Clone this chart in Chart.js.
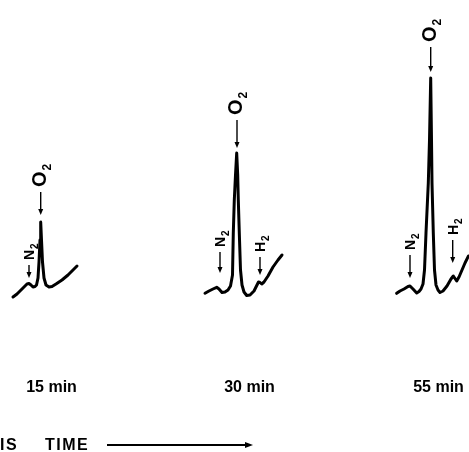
<!DOCTYPE html>
<html>
<head>
<meta charset="utf-8">
<script src="https://cdn.jsdelivr.net/npm/chart.js@4.4.0/dist/chart.umd.min.js"></script>
<style>
  html, body { margin: 0; padding: 0; background: #ffffff; }
  #wrap { width: 469px; height: 452px; }
</style>
</head>
<body>
<div id="wrap"><canvas id="c" width="469" height="452"></canvas></div>
<script>
// ---- Chromatogram traces (x = retention position, y = detector signal) ----
const trace15x = [13,17,21,24,27,29,31,33,35,36.5,38,39,40,40.7,41.5,42.5,44,46,49,52,56,62,68,73,77];
const trace15y = [3,6,10,13,16,16.5,15,13,13.5,15,22,38,60,78,60,38,22,15,13,13.5,16,20,25,30,34];

const trace30x = [205,209,213,216.7,219,222,225,228,230.5,232.5,233.3,234.3,235.5,236.7,237.7,238.3,239.3,240.5,242,244,246.7,250,254,257,258.5,260,261.7,264,268,273,278,282];
const trace30y = [6.7,9,11,12.7,11,7.5,8,10,14,25,67,100,125,147,125,100,67,30,15,8,4.5,5,9,15,18,17.5,16,18,24,33,40,45];

const trace55x = [396.7,400,404,408,410,413,416.7,419,421,423,424.5,426,428.3,429.5,430.7,431.5,432,433.3,434.5,436,438,440,443,447,451,453.3,455,456.7,459,462,465,468.5];
const trace55y = [6.7,9,11,13.5,14,11,7,8.5,11,16,30,67,117,160,222,160,117,67,30,15,10,7.5,9,14,21,24,21.5,19,23,30,37,44];

// ---- Peak labels (arrow tip / tail in data units) ----
const peakLabels = ["O2","N2","O2","N2","H2","O2","N2","H2"];
const peakX      = [40.7, 29, 237, 220, 260, 430.7, 410, 452.7];
const peakTipY   = [85, 22, 152, 27, 25, 228, 22, 37];
const peakTailY  = [108, 35, 180, 48, 43, 253, 45, 60];

// ---- Sample time labels ----
const timeLabels = ["15 min", "30 min", "55 min"];
const timeX      = [51.5, 249.5, 438.5];
const timeY      = -92;

// ---- Axis caption ----
const captionWords = ["IS", "TIME"];
const captionX     = [0, 45];
const captionY     = -150;
const arrowX       = [107, 253];
const arrowY       = -145;

function pts(xs, ys) { return xs.map((x, i) => ({ x: x, y: ys[i] })); }

const FONT = '"Liberation Sans", Arial, Helvetica, sans-serif';

const annotate = {
  id: 'annotate',
  afterDatasetsDraw(chart) {
    const ctx = chart.ctx;
    const xs = chart.scales.x, ys = chart.scales.y;
    ctx.save();
    ctx.fillStyle = '#000';
    ctx.strokeStyle = '#000';

    // peak labels with arrows
    peakLabels.forEach((lab, i) => {
      const px = xs.getPixelForValue(peakX[i]);
      const tip = ys.getPixelForValue(peakTipY[i]);
      const tail = ys.getPixelForValue(peakTailY[i]);
      ctx.lineWidth = 1.4;
      ctx.beginPath();
      ctx.moveTo(px, tail);
      ctx.lineTo(px, tip - 4);
      ctx.stroke();
      ctx.beginPath();
      ctx.moveTo(px - 2.5, tip - 6);
      ctx.lineTo(px + 2.5, tip - 6);
      ctx.lineTo(px, tip);
      ctx.closePath();
      ctx.fill();
      const isO = lab[0] === 'O';
      const big = isO ? 20 : 14;
      const sub = isO ? 12 : 10;
      const cap = big * 0.72;
      const shift = isO ? -2 : 0;
      ctx.save();
      ctx.translate(px + shift, tail - 5);
      ctx.rotate(-Math.PI / 2);
      ctx.textAlign = 'left';
      ctx.textBaseline = 'alphabetic';
      ctx.font = 'bold ' + big + 'px ' + FONT;
      ctx.fillText(lab[0], 0, cap / 2);
      const w = ctx.measureText(lab[0]).width;
      ctx.font = 'bold ' + sub + 'px ' + FONT;
      ctx.fillText(lab.slice(1), w + 1, cap / 2 + sub * 0.4);
      ctx.restore();
    });

    // time labels
    ctx.font = 'bold 16px ' + FONT;
    ctx.textAlign = 'center';
    ctx.textBaseline = 'alphabetic';
    timeLabels.forEach((t, i) => {
      ctx.fillText(t, xs.getPixelForValue(timeX[i]), ys.getPixelForValue(timeY));
    });

    // caption
    ctx.textAlign = 'left';
    ctx.font = 'bold 16px ' + FONT;
    if ('letterSpacing' in ctx) ctx.letterSpacing = '1.5px';
    captionWords.forEach((t, i) => {
      ctx.fillText(t, xs.getPixelForValue(captionX[i]), ys.getPixelForValue(captionY));
    });
    if ('letterSpacing' in ctx) ctx.letterSpacing = '0px';

    // time arrow
    const ax0 = xs.getPixelForValue(arrowX[0]);
    const ax1 = xs.getPixelForValue(arrowX[1]);
    const ay = ys.getPixelForValue(arrowY);
    ctx.lineWidth = 1.8;
    ctx.beginPath();
    ctx.moveTo(ax0, ay);
    ctx.lineTo(ax1 - 6, ay);
    ctx.stroke();
    ctx.beginPath();
    ctx.moveTo(ax1 - 8, ay - 3);
    ctx.lineTo(ax1, ay);
    ctx.lineTo(ax1 - 8, ay + 3);
    ctx.closePath();
    ctx.fill();

    ctx.restore();
  }
};

const ds = (xs, ys) => ({
  data: pts(xs, ys),
  borderColor: '#000',
  borderWidth: 3,
  pointRadius: 0,
  fill: false,
  tension: 0,
  borderCapStyle: 'round',
  borderJoinStyle: 'round'
});

new Chart(document.getElementById('c'), {
  type: 'line',
  data: {
    datasets: [ds(trace15x, trace15y), ds(trace30x, trace30y), ds(trace55x, trace55y)]
  },
  options: {
    responsive: false,
    maintainAspectRatio: false,
    animation: false,
    layout: { padding: 0 },
    plugins: { legend: { display: false }, tooltip: { enabled: false } },
    scales: {
      x: { type: 'linear', min: 0, max: 469, display: false },
      y: { type: 'linear', min: -152, max: 300, display: false }
    }
  },
  plugins: [annotate]
});
</script>
</body>
</html>
